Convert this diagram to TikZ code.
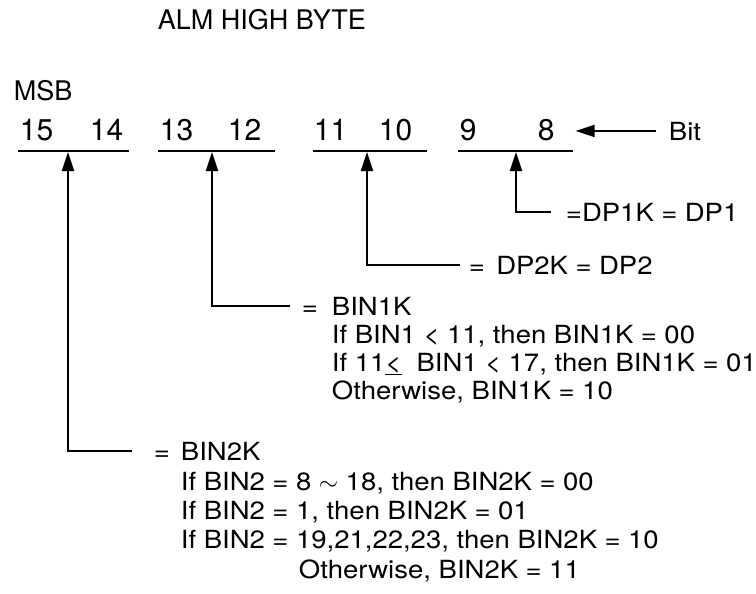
\documentclass[tikz,border=0pt]{standalone}
\usepackage{fontspec}
\setmainfont{TeX Gyre Heros}
\newfontfamily\bodyfont[FakeStretch=1.1]{TeX Gyre Heros}
\usetikzlibrary{arrows.meta}
\newcommand{\rel}[1]{\hspace{0.3em}#1\hspace{0.3em}}
\begin{document}
\begin{tikzpicture}[x=1pt,y=-1pt,line width=1.9pt,
  txt/.style={anchor=base west,inner sep=0pt,font=\bodyfont\fontsize{25}{30}\selectfont},
  head/.style={txt,font=\fontsize{27}{32}\selectfont},
  bitnum/.style={anchor=base west,inner sep=0pt,font=\fontsize{30}{36}\selectfont},
  uparr/.style={-{Triangle[width=12pt,length=19pt]}}]
\useasboundingbox (0,0) rectangle (756,594);
\node[head] (title) at (157,30) {ALM HIGH BYTE};
\node[head] (msb) at (13,100) {MSB};
% bit numbers and their groups
\node[bitnum] (n15) at (19,140) {15};
\node[bitnum] (n14) at (89,140) {14};
\node[bitnum] (n13) at (159,140) {13};
\node[bitnum] (n12) at (227,140) {12};
\node[bitnum] (n11) at (313,140) {11};
\node[bitnum] (n10) at (378,140) {10};
\node[bitnum] (n9) at (459,140) {9};
\node[bitnum] (n8) at (537,140) {8};
\draw (18,151) -- (129,151);
\draw (158,151) -- (275,151);
\draw (313,151) -- (427,151);
\draw (458,151) -- (573,151);
\coordinate (g1) at (68,152);
\coordinate (g2) at (212,152);
\coordinate (g3) at (367,152);
\coordinate (g4) at (516,152);
\node[txt] (bit) at (668,140) {Bit};
\draw[uparr] ([xshift=-12pt]bit.west) -- ([xshift=20pt]n8.east |- bit.west);
% field descriptions
\node[txt] (dp1) at (565,221) {=DP1K\rel{=}DP1};
\node[txt] (dp2) at (468,274) {=\hspace{0.45em}DP2K\rel{=}DP2};
\node[txt] (bin1a) at (331,315) {\llap{=\hspace{14pt}}BIN1K};
\node[txt] (bin1b) at (331,343) {If BIN1\rel{<}11, then BIN1K\rel{=}00};
\node[txt] (bin1c) at (331,371) {If 11\underline{<}\rel{}BIN1\rel{<}17, then BIN1K\rel{=}01};
\node[txt] (bin1d) at (331,399) {Otherwise, BIN1K\rel{=}10};
\node[txt] (bin2a) at (180,460) {\llap{=\hspace{11pt}}BIN2K};
\node[txt] (bin2b) at (180,490) {If BIN2\rel{=}8\rel{$\sim$}18, then BIN2K\rel{=}00};
\node[txt] (bin2c) at (180,519) {If BIN2\rel{=}1, then BIN2K\rel{=}01};
\node[txt] (bin2d) at (180,548) {If BIN2\rel{=}19,21,22,23, then BIN2K\rel{=}10};
\node[txt] (bin2e) at (298,578) {Otherwise, BIN2K\rel{=}11};
\draw[uparr] ([xshift=-14pt]dp1.west) -| (g4);
\draw[uparr] ([xshift=-8pt]dp2.west) -| (g3);
\draw[uparr] ([xshift=-41pt]bin1a.west) -| (g2);
\draw[uparr] ([xshift=-48pt]bin2a.west) -| (g1);
\end{tikzpicture}
\end{document}
